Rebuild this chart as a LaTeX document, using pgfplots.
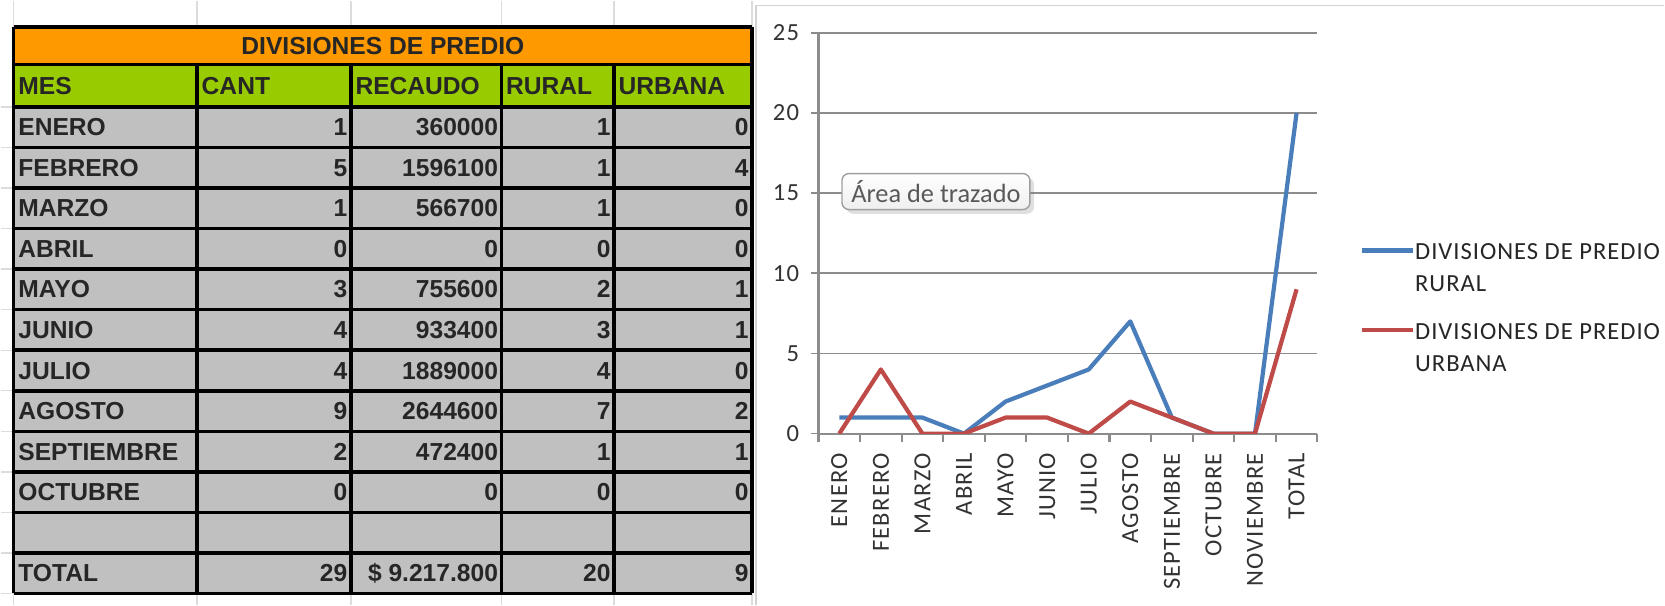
\documentclass[border=0pt]{standalone}
\usepackage{fontspec}
\setmainfont{Liberation Sans}
\newfontfamily\xlfont{Carlito}[LetterSpace=5]
\newfontfamily\lgfont{Carlito}[LetterSpace=4]
\newfontfamily\tipfont{Carlito}
\usepackage{pgfplots}
\pgfplotsset{compat=1.18}
\usetikzlibrary{shadows}

\definecolor{xlblue}{HTML}{4A7EBB}
\definecolor{xlred}{HTML}{BE4B48}
\definecolor{hdrorange}{HTML}{FF9900}
\definecolor{hdrgreen}{HTML}{99CC00}
\definecolor{cellgray}{HTML}{C0C0C0}
\definecolor{gridgray}{HTML}{8C8C8C}
\definecolor{sheetline}{HTML}{DADCDD}

\newcommand\tabfont{\bfseries\fontsize{7}{8.4}\selectfont}
\newcommand\chfont{\xlfont\fontsize{7}{9.1}\selectfont}
\newcommand\lgdfont{\lgfont\fontsize{7}{9.1}\selectfont}

\begin{document}
\begin{tikzpicture}
% pixel grid of the 1665x605 reference, y pointing down
\begin{scope}[x=0.01cm,y=-0.01cm,yshift=6.05cm]
  \fill[white] (0,0) rectangle (1665,605);
  % faint sheet grid around the table
  \foreach \xx in {13,196.5,350.4,501.2,613.8,752}
    \draw[sheetline] (\xx,0) -- (\xx,26.5) (\xx,593) -- (\xx,605);
  \foreach \k in {0,...,12}
    \draw[sheetline] (0,{106.2+\k*40.6}) -- (13,{106.2+\k*40.6});
  % chart panel border
  \draw[gray!35] (756,605) -- (756,5) -- (1665,5);

  % table cells
  \fill[cellgray] (13,106.2) rectangle (752,593);
  \fill[hdrorange] (13,26.5) rectangle (752,63.7);
  \fill[hdrgreen] (13,63.7) rectangle (752,106.2);
  \foreach \yy in {26.5,63.7}
    \draw[line width=1pt] (13,\yy) -- (752,\yy);
  \foreach \k in {0,...,12}
    \draw[line width=1pt] (13,{106.2+\k*40.6}) -- (752,{106.2+\k*40.6});
  \draw[line width=1pt] (13,26.5) -- (13,593) (752,26.5) -- (752,593);
  \foreach \xx in {196.5,350.4,501.2,613.8}
    \draw[line width=1pt] (\xx,63.7) -- (\xx,593);

  \node[font=\tabfont, text=black!85, anchor=base] at (382.5,53.6) {DIVISIONES DE PREDIO};
  \foreach \xx/\t in {17/MES,200.5/CANT,354.4/RECAUDO,505.2/RURAL,617.8/URBANA}
    \node[font=\tabfont, text=black!85, anchor=base west, inner sep=0pt] at (\xx,93.5) {\t};

  \foreach \m/\a/\b/\c/\d [count=\i from 0] in {
      ENERO/1/360000/1/0, FEBRERO/5/1596100/1/4, MARZO/1/566700/1/0,
      ABRIL/0/0/0/0, MAYO/3/755600/2/1, JUNIO/4/933400/3/1,
      JULIO/4/1889000/4/0, AGOSTO/9/2644600/7/2, SEPTIEMBRE/2/472400/1/1,
      OCTUBRE/0/0/0/0, TOTAL/29/\$~9.217.800/20/9} {
    \pgfmathsetmacro\yb{106.2+(\i+(\i>9))*40.6+20.3+8.5}
    \node[font=\tabfont, text=black!85, anchor=base west, inner sep=0pt] at (17,\yb) {\m};
    \node[font=\tabfont, text=black!85, anchor=base east, inner sep=0pt] at (347.6,\yb) {\a};
    \node[font=\tabfont, text=black!85, anchor=base east, inner sep=0pt] at (498.4,\yb) {\b};
    \node[font=\tabfont, text=black!85, anchor=base east, inner sep=0pt] at (611,\yb) {\c};
    \node[font=\tabfont, text=black!85, anchor=base east, inner sep=0pt] at (749.2,\yb) {\d};
  }
\end{scope}

\begin{axis}[
  at={(8.18cm,1.72cm)}, anchor=south west,
  scale only axis, width=4.99cm, height=4.01cm,
  xmin=-0.5, xmax=11.5, ymin=0, ymax=25,
  axis x line*=bottom, axis y line*=left,
  axis line style={gridgray, line width=0.6pt, -},
  xtick={0,...,11},
  xticklabels={ENERO,FEBRERO,MARZO,ABRIL,MAYO,JUNIO,JULIO,AGOSTO,SEPTIEMBRE,OCTUBRE,NOVIEMBRE,TOTAL},
  major x tick style={draw=none},
  minor xtick={-0.5,0.5,...,11.5},
  minor x tick style={gridgray, line width=0.6pt},
  minor tick length=0.085cm,
  ytick={0,5,...,25},
  tick align=outside, major tick length=0.07cm,
  y tick style={gridgray, line width=0.45pt},
  ymajorgrids, grid style={gridgray, line width=0.45pt},
  /pgf/number format/assume math mode=true,
  x tick label style={rotate=90, anchor=east, font=\chfont, text=black!80},
  y tick label style={font=\chfont, text=black!80},
  legend style={at={(1.084,0.475)}, anchor=north west, draw=none, fill=none,
    inner sep=0pt, row sep=7.5pt, font=\lgdfont, text=black!85,
    nodes={align=left, inner sep=0pt}},
  legend cell align=left,
  legend image code/.code={\draw[#1] (0pt,5.7pt) -- (14.5pt,5.7pt);},
  ]
\addplot[xlblue, line width=1.2pt, line join=round] coordinates
  {(0,1) (1,1) (2,1) (3,0) (4,2) (5,3) (6,4) (7,7) (8,1) (9,0) (10,0) (11,20)};
\addplot[xlred, line width=1.2pt, line join=round] coordinates
  {(0,0) (1,4) (2,0) (3,0) (4,1) (5,1) (6,0) (7,2) (8,1) (9,0) (10,0) (11,9)};
\legend{DIVISIONES DE PREDIO\\RURAL, DIVISIONES DE PREDIO\\URBANA}
\end{axis}

\begin{scope}[x=0.01cm,y=-0.01cm,yshift=6.05cm]
  \node[draw=gray!75, rounded corners=2pt, top color=white, bottom color=blue!5!gray!12,
        drop shadow={opacity=0.25, shadow xshift=1.2pt, shadow yshift=-1.2pt},
        minimum width=1.88cm, minimum height=0.36cm, inner sep=0pt,
        font=\tipfont\fontsize{7.5}{9}\selectfont, text=black!65] at (936,191) {Área de trazado};
\end{scope}
\end{tikzpicture}
\end{document}
